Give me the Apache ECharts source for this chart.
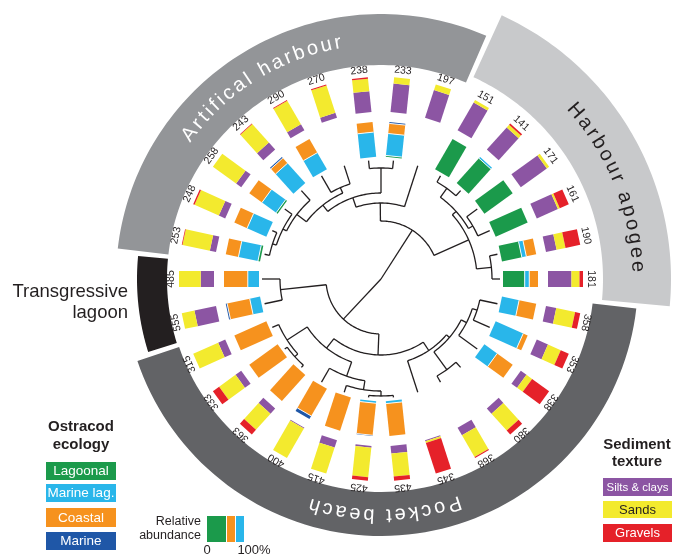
<!DOCTYPE html>
<html>
<head>
<meta charset="utf-8">
<script src="https://cdn.jsdelivr.net/npm/echarts@6.0.0/dist/echarts.min.js"></script>
<style>
html,body{margin:0;padding:0;background:#ffffff;}
#chart{width:685px;height:557px;}
</style>
</head>
<body>
<div id="chart"></div>
<script>
// ---------------- data ----------------
// samples clockwise from the top (each occupies one angular slot)
const samples = ['233','197','151','141','171','161','190','181',
                 '358','353','338','380','368','345','435','425','415','400','363','333','315',
                 '555','485',
                 '253','248','258','243','290','270','238'];
// Ostracod ecology, relative abundance (%)  (all 0 = no ostracods)
const lagoonal  = [4, 0, 100, 95, 100, 100, 58, 62,
                   0, 0, 0, 0, 0, 0, 0, 0, 0, 0, 0, 0, 0,
                   0, 0,
                   6, 0, 5, 0, 0, 0, 0];
const marineLag = [63, 0, 0, 5, 0, 0, 13, 13,
                   50, 86, 45, 0, 0, 0, 7, 6, 0, 0, 0, 0, 0,
                   30, 32,
                   57, 60, 50, 76, 55, 0, 71];
const coastal   = [29, 0, 0, 0, 0, 0, 29, 25,
                   50, 14, 55, 0, 0, 0, 93, 92, 100, 90, 100, 100, 100,
                   66, 68,
                   37, 40, 45, 20, 45, 0, 29];
const marine    = [4, 0, 0, 0, 0, 0, 0, 0,
                   0, 0, 0, 0, 0, 0, 0, 2, 0, 10, 0, 0, 0,
                   4, 0,
                   0, 0, 0, 4, 0, 0, 0];
// Sediment texture (%)
const silts   = [82, 83, 92, 85, 92, 66, 31, 67,
                 30, 35, 20, 20, 25, 3, 22, 5, 22, 3, 20, 20, 22,
                 63, 38,
                 18, 20, 18, 27, 20, 15, 60];
const sands   = [18, 17, 8, 10, 8, 6, 26, 23,
                 55, 40, 20, 65, 72, 5, 66, 85, 78, 97, 62, 58, 78,
                 37, 62,
                 80, 76, 82, 71, 78, 82, 36];
const gravels = [0, 0, 0, 5, 0, 28, 43, 10,
                 15, 25, 60, 15, 3, 92, 12, 10, 0, 0, 18, 22, 0,
                 0, 0,
                 2, 4, 0, 2, 2, 3, 4];
// cluster dendrogram: [height, childA, childB], leaves are sample names
const tree = [0,
  [58,
    [76,
      [86,
        [94,
          [106, [110, [114, '253', '248'], '258'], '243'],
          [100, '290', '270']],
        [111, '238', '233']],
      '197'],
    [96,
      [101, [112, '151', '141'], [106, '171', '161']],
      [111, '190', '181']]],
  [55,
    [101, '555', '485'],
    [76,
      [88,
        [112, '315', [116, '333', '363']],
        [103, '400', [112, '415', [117, '425', '435']]]],
      [86, '345', [90, [112, '368', '380'], [96, '338', [101, '353', '358']]]]]]];
// environment groups (first and last sample, clockwise)
const groupNames = ['Artifical harbour', 'Harbour apogee', 'Pocket beach', 'Transgressive lagoon'];
const groupFirst = ['253', '151', '358', '555'];
const groupLast  = ['197', '181', '315', '485'];

// ---------------- styles ----------------
const ostColors = ['#1b9a4b', '#29b6ea', '#f6921e', '#1f57a7'];
const sedColors = ['#8c55a3', '#f3ea2e', '#e52129'];
const bandColor = ['#939598', '#c8c9cb', '#626366', '#231f20'];
const bandInner = [214, 222, 213, 214];
const bandOuter = [265, 290, 257, 244];
const bandTextColor = ['#ffffff', '#231f20', '#ffffff', null];
const bandTextDeg = [-32, 68, 179, null];
const bandTextR = [240, 257, 236, null];
const FONT = '"Liberation Sans", Arial, Helvetica, sans-serif';
const N = samples.length;
const OST_R0 = 122, SED_R0 = 167, BAR_LEN = 35, BAR_W = 16, LABEL_R = 204, LEAF_R = 119;
const BAND_GAP = 0.05;

function wrap(a) { return ((a % N) + N) % N; }
function rotAt(api, r, a) {
  const c = api.coord([0, wrap(a)]);
  const p = api.coord([r, wrap(a)]);
  return -Math.atan2(p[0] - c[0], c[1] - p[1]);
}

// ---- dendrogram segments derived from tree ----
function sdiff(a, b) { return ((b - a) % N + N * 1.5) % N - N / 2; }
const segs = [];
function walk(node) {
  if (typeof node === 'string') return { p: samples.indexOf(node) + 0.5, r: LEAF_R };
  const h = node[0];
  const kids = node.slice(1).map(walk);
  const d = sdiff(kids[0].p, kids[1].p);
  kids.forEach(k => segs.push([h, k.p, 0, k.r, k.p]));
  if (h > 0) segs.push([h, kids[0].p, 1, h, kids[0].p + d]);
  return { p: kids[0].p + d / 2, r: h };
}
walk(tree);

// ---- band spans ----
const bandData = groupNames.map((n, g) => {
  const f = samples.indexOf(groupFirst[g]);
  let l = samples.indexOf(groupLast[g]);
  if (l < f) l += N;
  return [bandOuter[g], f, g, l + 1];
});

const measureCtx = document.createElement('canvas').getContext('2d');

const chart = echarts.init(document.getElementById('chart'), null, { renderer: 'canvas' });
chart.setOption({
  animation: false,
  backgroundColor: '#ffffff',
  polar: { center: [381, 279], radius: 290 },
  angleAxis: { type: 'value', min: 0, max: N, startAngle: 90, clockwise: true, show: false },
  radiusAxis: { type: 'value', min: 0, max: 290, show: false },
  series: [
    { // environment bands
      type: 'custom', coordinateSystem: 'polar', silent: true,
      data: bandData,
      renderItem: function (params, api) {
        const g = api.value(2);
        const a1 = api.value(1) + BAND_GAP, a2 = api.value(3) - BAND_GAP;
        const pts = [];
        const n = 80;
        for (let k = 0; k <= n; k++) pts.push(api.coord([bandOuter[g], wrap(a1 + (a2 - a1) * k / n)]));
        for (let k = n; k >= 0; k--) pts.push(api.coord([bandInner[g], wrap(a1 + (a2 - a1) * k / n)]));
        const children = [{ type: 'polygon', shape: { points: pts }, style: { fill: bandColor[g] } }];
        if (bandTextColor[g]) {
          const txt = groupNames[g];
          const size = 20, spacing = 3;
          measureCtx.font = size + 'px ' + FONT;
          const ws = txt.split('').map(ch => measureCtx.measureText(ch).width);
          const W = ws.reduce((s, w) => s + w, 0) + spacing * (ws.length - 1);
          const R = bandTextR[g];
          let s = -W / 2;
          txt.split('').forEach((ch, k) => {
            const sc = s + ws[k] / 2;
            s += ws[k] + spacing;
            if (ch === ' ') return;
            const deg = bandTextDeg[g] + sc / R * 180 / Math.PI;
            const a = deg / 12;
            const p = api.coord([R, wrap(a)]);
            children.push({
              type: 'text', x: p[0], y: p[1], rotation: rotAt(api, R, a),
              style: { text: ch, fill: bandTextColor[g], font: size + 'px ' + FONT,
                       align: 'center', verticalAlign: 'middle' }
            });
          });
        }
        return { type: 'group', children: children };
      }
    },
    { // dendrogram
      type: 'custom', coordinateSystem: 'polar', silent: true,
      data: segs,
      renderItem: function (params, api) {
        const r1 = api.value(0), a1 = api.value(1), kind = api.value(2), r2 = api.value(3), a2 = api.value(4);
        const pts = [];
        if (kind === 0) {
          pts.push(api.coord([r1, wrap(a1)]), api.coord([r2, wrap(a1)]));
        } else {
          const n = Math.max(2, Math.ceil(Math.abs(a2 - a1) * 10));
          for (let k = 0; k <= n; k++) pts.push(api.coord([r1, wrap(a1 + (a2 - a1) * k / n)]));
        }
        return { type: 'polyline', shape: { points: pts }, style: { stroke: '#231f20', lineWidth: 1.3, fill: null } };
      }
    },
    { // stacked bars and depth labels
      type: 'custom', coordinateSystem: 'polar', silent: true,
      data: samples.map((s, i) => [LABEL_R, i + 0.5, i]),
      renderItem: function (params, api) {
        const i = api.value(2);
        const a = i + 0.5;
        const c = api.coord([0, a]);
        const far = api.coord([300, a]);
        let ux = far[0] - c[0], uy = far[1] - c[1];
        const L = Math.hypot(ux, uy); ux /= L; uy /= L;
        const nx = -uy, ny = ux, hw = BAR_W / 2;
        const children = [];
        function seg(r1, r2, color) {
          const p1 = api.coord([r1, a]), p2 = api.coord([r2, a]);
          children.push({ type: 'polygon', shape: { points: [
            [p1[0] + nx * hw, p1[1] + ny * hw], [p2[0] + nx * hw, p2[1] + ny * hw],
            [p2[0] - nx * hw, p2[1] - ny * hw], [p1[0] - nx * hw, p1[1] - ny * hw]] },
            style: { fill: color } });
        }
        function divider(r) {
          const p = api.coord([r, a]);
          children.push({ type: 'line', shape: { x1: p[0] + nx * hw, y1: p[1] + ny * hw, x2: p[0] - nx * hw, y2: p[1] - ny * hw },
            style: { stroke: '#ffffff', lineWidth: 0.9 } });
        }
        function stackBar(r0, vals, colors, sep) {
          const tot = vals.reduce((s, v) => s + v, 0);
          if (!tot) return;
          let r = r0;
          const bounds = [];
          vals.forEach((v, k) => {
            if (v > 0) { const r2 = r + BAR_LEN * v / tot; seg(r, r2, colors[k]); r = r2; bounds.push(r2); }
          });
          if (sep) bounds.slice(0, -1).forEach(divider);
        }
        stackBar(OST_R0, [lagoonal[i], marineLag[i], coastal[i], marine[i]], ostColors, true);
        stackBar(SED_R0, [silts[i], sands[i], gravels[i]], sedColors, false);
        const lp = api.coord([LABEL_R, a]);
        children.push({ type: 'text', x: lp[0], y: lp[1], rotation: rotAt(api, LABEL_R, a),
          style: { text: samples[i], fill: '#231f20', font: '10.5px ' + FONT, align: 'center', verticalAlign: 'bottom' } });
        return { type: 'group', children: children };
      }
    }
  ],
  graphic: [
    { type: 'text', x: 128, y: 292, style: { text: 'Transgressive', fill: '#231f20', font: '18.5px ' + FONT, align: 'right', verticalAlign: 'middle' } },
    { type: 'text', x: 128, y: 313, style: { text: 'lagoon', fill: '#231f20', font: '18.5px ' + FONT, align: 'right', verticalAlign: 'middle' } },

    { type: 'text', x: 81, y: 427, style: { text: 'Ostracod', fill: '#231f20', font: 'bold 15px ' + FONT, align: 'center', verticalAlign: 'middle' } },
    { type: 'text', x: 81, y: 445, style: { text: 'ecology', fill: '#231f20', font: 'bold 15px ' + FONT, align: 'center', verticalAlign: 'middle' } },
    { type: 'rect', shape: { x: 46, y: 462, width: 70, height: 18 }, style: { fill: ostColors[0] } },
    { type: 'text', x: 81, y: 471.5, style: { text: 'Lagoonal', fill: '#ffffff', font: '13.5px ' + FONT, align: 'center', verticalAlign: 'middle' } },
    { type: 'rect', shape: { x: 46, y: 484, width: 70, height: 18 }, style: { fill: ostColors[1] } },
    { type: 'text', x: 81, y: 493.5, style: { text: 'Marine lag.', fill: '#ffffff', font: '13.5px ' + FONT, align: 'center', verticalAlign: 'middle' } },
    { type: 'rect', shape: { x: 46, y: 508, width: 70, height: 19 }, style: { fill: ostColors[2] } },
    { type: 'text', x: 81, y: 518, style: { text: 'Coastal', fill: '#ffffff', font: '13.5px ' + FONT, align: 'center', verticalAlign: 'middle' } },
    { type: 'rect', shape: { x: 46, y: 532, width: 70, height: 18 }, style: { fill: ostColors[3] } },
    { type: 'text', x: 81, y: 541.5, style: { text: 'Marine', fill: '#ffffff', font: '13.5px ' + FONT, align: 'center', verticalAlign: 'middle' } },

    { type: 'text', x: 201, y: 522, style: { text: 'Relative', fill: '#231f20', font: '12.5px ' + FONT, align: 'right', verticalAlign: 'middle' } },
    { type: 'text', x: 201, y: 536, style: { text: 'abundance', fill: '#231f20', font: '12.5px ' + FONT, align: 'right', verticalAlign: 'middle' } },
    { type: 'rect', shape: { x: 207, y: 516, width: 19, height: 26 }, style: { fill: ostColors[0] } },
    { type: 'rect', shape: { x: 227, y: 516, width: 8, height: 26 }, style: { fill: ostColors[2] } },
    { type: 'rect', shape: { x: 236, y: 516, width: 8, height: 26 }, style: { fill: ostColors[1] } },
    { type: 'text', x: 207, y: 550, style: { text: '0', fill: '#231f20', font: '13px ' + FONT, align: 'center', verticalAlign: 'middle' } },
    { type: 'text', x: 254, y: 550, style: { text: '100%', fill: '#231f20', font: '13px ' + FONT, align: 'center', verticalAlign: 'middle' } },

    { type: 'text', x: 637, y: 445, style: { text: 'Sediment', fill: '#231f20', font: 'bold 15px ' + FONT, align: 'center', verticalAlign: 'middle' } },
    { type: 'text', x: 637, y: 462, style: { text: 'texture', fill: '#231f20', font: 'bold 15px ' + FONT, align: 'center', verticalAlign: 'middle' } },
    { type: 'rect', shape: { x: 603, y: 478, width: 69, height: 18 }, style: { fill: sedColors[0] } },
    { type: 'text', x: 637.5, y: 487.5, style: { text: 'Silts & clays', fill: '#ffffff', font: '11.5px ' + FONT, align: 'center', verticalAlign: 'middle' } },
    { type: 'rect', shape: { x: 603, y: 501, width: 69, height: 17 }, style: { fill: sedColors[1] } },
    { type: 'text', x: 637.5, y: 510, style: { text: 'Sands', fill: '#231f20', font: '13px ' + FONT, align: 'center', verticalAlign: 'middle' } },
    { type: 'rect', shape: { x: 603, y: 524, width: 69, height: 18 }, style: { fill: sedColors[2] } },
    { type: 'text', x: 637.5, y: 533.5, style: { text: 'Gravels', fill: '#ffffff', font: '13px ' + FONT, align: 'center', verticalAlign: 'middle' } }
  ]
});
</script>
</body>
</html>
